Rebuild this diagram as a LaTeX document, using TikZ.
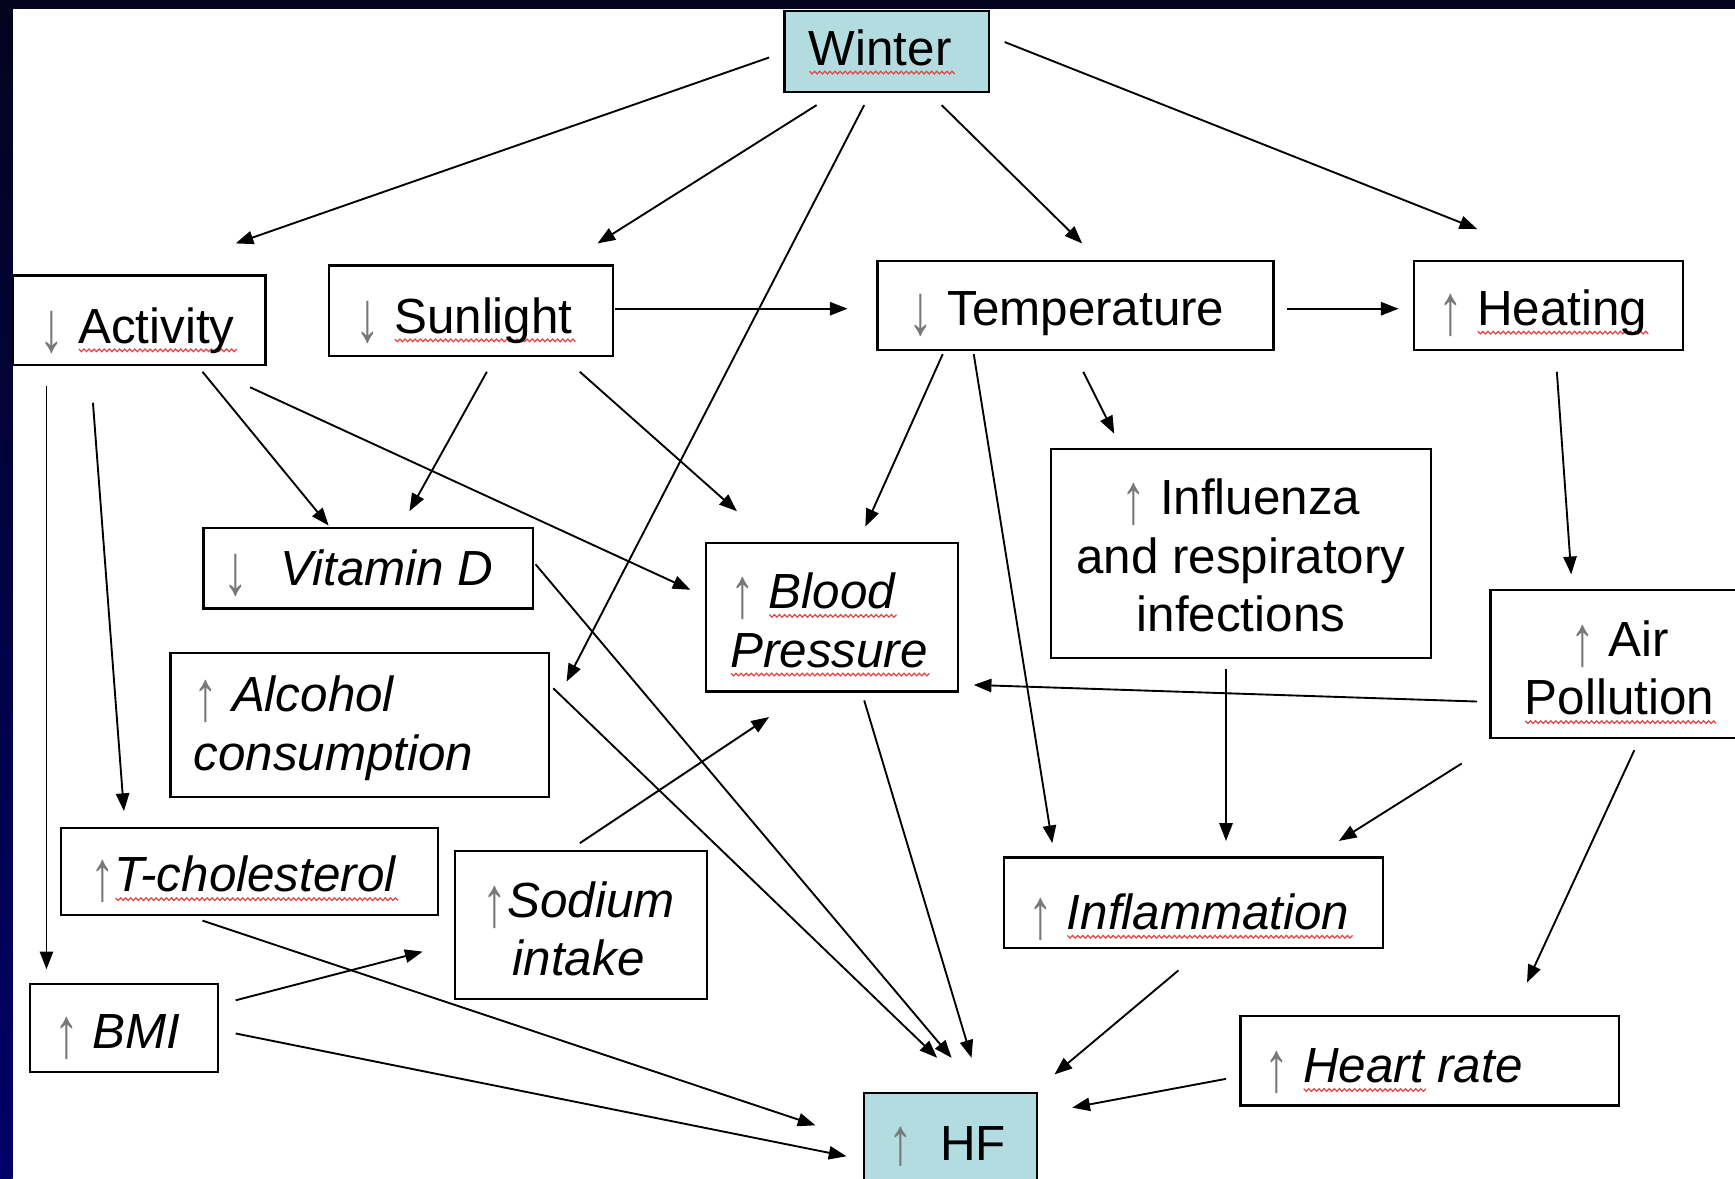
\documentclass[tikz,border=0pt]{standalone}
\usepackage{fontspec}
\setmainfont{Liberation Sans}
\usetikzlibrary{arrows.meta,calc}
\definecolor{navyL}{RGB}{0,0,105}
\definecolor{navyT}{RGB}{4,4,30}
\definecolor{wteal}{RGB}{178,220,224}
\definecolor{sqred}{RGB}{225,70,70}
\definecolor{arrgray}{RGB}{120,120,120}
\newsavebox\sqbox
\newcount\sqi
\newdimen\sqx
% red wavy underline drawn as a path
\newcommand\sq[1]{\leavevmode\sbox\sqbox{#1}\rlap{\color{sqred}\begin{pgfpicture}\pgfsetbaseline{0pt}%
 \pgfsetlinewidth{0.55pt}%
 \pgfpathmoveto{\pgfqpoint{0pt}{-2.7pt}}\sqx=0pt \sqi=0
 \loop \advance\sqx by 1.15pt \advance\sqi by 1
   \ifodd\sqi\pgfpathlineto{\pgfqpoint{\sqx}{-3.9pt}}\else\pgfpathlineto{\pgfqpoint{\sqx}{-2.7pt}}\fi
 \ifdim\sqx<\wd\sqbox\repeat
 \pgfusepath{stroke}\end{pgfpicture}}\usebox\sqbox}
\newcommand\up{{\upshape\color{arrgray}\raisebox{-4pt}{\scalebox{1}[1.45]{↑}}}}
\newcommand\uphf{{\upshape\color{arrgray}\raisebox{-1.5pt}{\scalebox{1}[1.35]{↑}}}}
\newcommand\dn{{\upshape\color{arrgray}\raisebox{-4pt}{\scalebox{1}[1.45]{↓}}}}
% #1 drop of last baseline below centre, #2 horizontal shift (x2 for centred), #3 lines
\newcommand\txc[3]{\raisebox{-#1}[0pt][0pt]{\makebox[0pt][c]{\hspace*{#2}\begin{tabular}[b]{@{}c@{}}#3\end{tabular}}}}
\newcommand\txl[3]{\raisebox{-#1}[0pt][0pt]{\makebox[0pt][l]{\hspace*{#2}\begin{tabular}[b]{@{}l@{}}#3\end{tabular}}}}
\newcommand\conn[4]{\draw[conn] ([shift={(#2)}]#1.center) -- ([shift={(#4)}]#3.center);}
\begin{document}
\begin{tikzpicture}[x=0.5pt,y=-0.5pt,
 box/.style={draw=black, line width=1pt, inner sep=0pt, font=\fontsize{22.3}{26.5}\selectfont},
 itbox/.style={box, font=\fontsize{22.3}{26.5}\selectfont\itshape},
 conn/.style={draw=black, fill=black, line width=0.85pt, -{Triangle[length=8pt,width=6pt,fill=black]}},
]
\useasboundingbox (0,0) rectangle (1568,1065);
\fill[white] (0,0) rectangle (1568,1065);
\shade[top color=navyT, bottom color=navyL] (0,0) rectangle (11.5,1065);
\fill[navyT] (0,0) rectangle (1568,8);

% nodes
\node[box, fill=wteal, minimum width=92.5pt, minimum height=36.5pt] (winter) at (801.5,46.5) {\txc{6.25pt}{-6pt}{\sq{Winter}}};
\node[box, minimum width=114pt, minimum height=40.5pt] (activity) at (126,289.5) {\txc{10.25pt}{-2pt}{\dn\ \sq{Activity}}};
\node[box, minimum width=128.5pt, minimum height=41pt] (sunlight) at (425.5,281) {\txc{10pt}{-6pt}{\dn\ \sq{Sunlight}}};
\node[box, minimum width=179pt, minimum height=40pt] (temp) at (972,276) {\txc{9pt}{-8pt}{\dn\ Temperature}};
\node[box, minimum width=121.5pt, minimum height=40pt] (heating) at (1399.5,276) {\txc{9pt}{-5pt}{\up\ \sq{Heating}}};
\node[itbox, minimum width=149pt, minimum height=36.5pt] (vitd) at (333,513.5) {\txc{7.75pt}{-9pt}{\dn\hspace{0.65em}Vitamin D}};
\node[itbox, minimum width=114pt, minimum height=67pt] (bp) at (752,558) {\txl{22.5pt}{-46pt}{\up\ \sq{Blood}\\\sq{Pressure}}};
\node[box, minimum width=171.5pt, minimum height=94.5pt] (flu) at (1121.5,500.5) {\txc{35.25pt}{0pt}{\up\ Influenza\\and respiratory\\infections}};
\node[box, minimum width=116.5pt, minimum height=67pt] (air) at (1463.5,600) {\txc{23pt}{0pt}{\up\ Air\\\sq{Pollution}}};
\node[itbox, minimum width=171pt, minimum height=65pt] (alcohol) at (325,655) {\txl{20.5pt}{-75pt}{\up\ Alcohol\\consumption}};
\node[itbox, minimum width=170.5pt, minimum height=39.5pt] (tchol) at (225.5,787.5) {\txc{9.25pt}{-6pt}{\up\sq{T-cholesterol}}};
\node[itbox, minimum width=114pt, minimum height=67pt] (sodium) at (525,836) {\txc{23pt}{-2pt}{\up Sodium\\intake}};
\node[itbox, minimum width=171.5pt, minimum height=41pt] (inflam) at (1078.5,816) {\txc{12pt}{-4pt}{\up\ \sq{Inflammation}}};
\node[itbox, minimum width=85pt, minimum height=40pt] (bmi) at (112,929) {\txc{9.5pt}{-6pt}{\up\ BMI}};
\node[itbox, minimum width=171pt, minimum height=40.5pt] (heart) at (1292,958.5) {\txl{10pt}{-74.5pt}{\up\ \sq{Heart} rate}};
\node[box, fill=wteal, minimum width=78pt, minimum height=50pt] (hf) at (859,1038) {\txc{5.5pt}{-3pt}{\uphf\ \ HF}};

% connectors
\conn{winter}{-106.5,5.5}{activity}{87,-69.5}
\conn{winter}{-63.5,48.5}{sunlight}{114.5,-61}
\conn{winter}{-20.5,48.5}{alcohol}{187,-39}
\conn{winter}{49.5,48.5}{temp}{6,-56}
\conn{winter}{106.5,-8.5}{heating}{-64.5,-69}
\conn{sunlight}{130.5,-2}{temp}{-206,3}
\conn{temp}{191,3}{heating}{-135.5,3}
\conn{activity}{57,46.5}{vitd}{-36,-38.5}
\conn{activity}{100,60.5}{bp}{-128,-25}
\conn{activity}{-42,74.5}{tchol}{-113.5,-54.5}
\conn{activity}{-84,59.5}{bmi}{-70,-53}
\conn{sunlight}{14.5,55}{vitd}{37,-51.5}
\conn{sunlight}{98.5,55}{bp}{-86,-96}
\conn{temp}{-120,44}{bp}{30,-82}
\conn{temp}{-92,44}{inflam}{-127.5,-54}
\conn{temp}{7,60}{flu}{-114.5,-108.5}
\conn{heating}{7.5,60}{air}{-43.5,-81}
\conn{air}{-128.5,34}{bp}{128,61}
\conn{air}{-142.5,90}{inflam}{131.5,-56}
\conn{air}{13.5,78}{heart}{88,-70.5}
\conn{flu}{-13.5,104.5}{inflam}{29.5,-56}
\conn{vitd}{151,-3.5}{hf}{1,-82}
\conn{alcohol}{175,-33}{hf}{-12,-82}
\conn{bp}{29,75}{hf}{19,-82}
\conn{sodium}{-1,-74}{bp}{-57,90}
\conn{bmi}{101,-25}{sodium}{-143,24}
\conn{bmi}{101,5}{hf}{-94,7}
\conn{tchol}{-42.5,44.5}{hf}{-122,-21}
\conn{inflam}{-13.5,61}{hf}{94,-67}
\conn{heart}{-184,16.5}{hf}{110,-37}
\end{tikzpicture}
\end{document}
